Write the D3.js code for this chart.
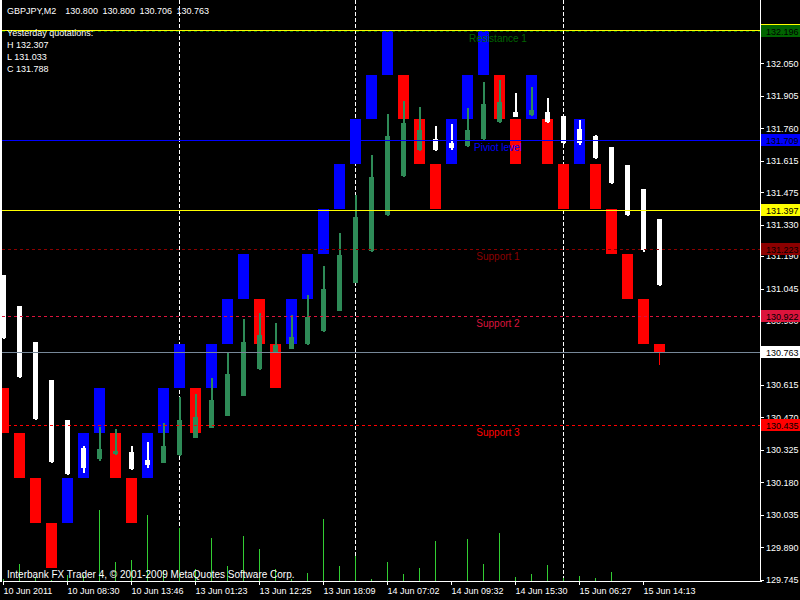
<!DOCTYPE html>
<html><head><meta charset="utf-8">
<script src="https://cdn.jsdelivr.net/npm/d3@7"></script>
<style>
body{margin:0;background:#000;}
svg{display:block;}
text{font-family:"Liberation Sans",Arial,sans-serif;}
rect,line{shape-rendering:crispEdges;}
</style>
</head><body>
<svg id="chart" width="800" height="600"></svg>
<script>
// ---------------- DATA ----------------
const titleText = "GBPJPY,M2  130.800 130.800 130.706 130.763";
const infoLines = ["Yesterday quotations:", "H 132.307", "L 131.033", "C 131.788"];
const copyrightText = "Interbank FX Trader 4, \u00a9 2001-2009 MetaQuotes Software Corp.";

// main chart bars (brick-like bodies)
const blockOpen  = [130.6,130.4,130.2,130.0,130.0,130.2,130.4,130.4,130.2,130.2,130.4,130.6,130.6,130.6,130.8,131.0,131.0,130.8,130.8,131.0,131.2,131.4,131.6,131.8,132.0,132.0,131.8,131.6,131.6,131.8,132.0,132.0,131.8,131.8,131.8,131.6,131.6,131.6,131.4,131.2,131.0,130.800];
const blockClose = [130.4,130.2,130.0,129.8,130.2,130.4,130.6,130.2,130.0,130.4,130.6,130.8,130.4,130.8,131.0,131.2,130.8,130.6,131.0,131.2,131.4,131.6,131.8,132.0,132.2,131.8,131.6,131.4,131.8,132.0,132.2,131.8,131.6,132.0,131.6,131.4,131.8,131.4,131.2,131.0,130.8,130.763];
const blockLow   = [130.4,130.2,130.0,129.8,130.0,130.2,130.4,130.2,130.0,130.2,130.4,130.6,130.4,130.6,130.8,131.0,130.8,130.6,130.8,131.0,131.2,131.4,131.6,131.8,132.0,131.8,131.6,131.4,131.6,131.8,132.0,131.8,131.6,131.8,131.6,131.4,131.6,131.4,131.2,131.0,130.8,130.706];
const blockHigh  = [130.6,130.4,130.2,130.0,130.2,130.4,130.6,130.4,130.2,130.4,130.6,130.8,130.6,130.8,131.0,131.2,131.0,130.8,131.0,131.2,131.4,131.6,131.8,132.0,132.2,132.0,131.8,131.6,131.8,132.0,132.2,132.0,131.8,132.0,131.8,131.6,131.8,131.6,131.4,131.2,131.0,130.800];

// overlay candles
const candleOpen  = [131.106,130.967,130.807,130.637,130.459,130.334,130.284,130.307,130.318,130.281,130.269,130.303,130.380,130.422,130.478,130.567,130.687,130.764,130.776,130.798,130.856,130.947,131.071,131.213,131.373,131.547,131.665,131.713,131.694,131.681,131.712,131.790,131.833,131.819,131.833,131.815,131.758,131.726,131.678,131.597,131.489,131.356];
const candleHigh  = [131.106,130.967,130.807,130.637,130.459,130.343,130.429,130.419,130.344,130.362,130.444,130.563,130.575,130.646,130.761,130.910,130.936,130.892,130.927,131.017,131.146,131.293,131.462,131.641,131.823,131.881,131.856,131.771,131.779,131.851,131.967,131.975,131.917,131.944,131.895,131.815,131.796,131.732,131.678,131.597,131.489,131.356];
const candleLow   = [130.818,130.645,130.460,130.269,130.212,130.222,130.277,130.303,130.236,130.244,130.266,130.300,130.377,130.422,130.478,130.567,130.683,130.759,130.774,130.795,130.853,130.947,131.068,131.210,131.370,131.544,131.661,131.660,131.663,131.678,131.708,131.785,131.809,131.816,131.785,131.689,131.687,131.624,131.512,131.370,131.210,131.057];
const candleClose = [130.825,130.650,130.465,130.273,130.217,130.245,130.330,130.322,130.240,130.258,130.343,130.459,130.474,130.548,130.664,130.807,130.838,130.794,130.829,130.917,131.043,131.195,131.364,131.542,131.726,131.783,131.753,131.665,131.672,131.753,131.868,131.877,131.812,131.842,131.790,131.694,131.694,131.629,131.517,131.375,131.215,131.062];

// tick volumes
const volumes = [2,17,4,1,6,6,71,19,21,66,11,53,12,43,15,45,32,12,2,8,62,15,25,2,19,7,13,40,0,42,17,48,4,7,16,3,5,3,9,0,0,0];

// time axis
const timeTickBars = [0,4,8,12,16,20,24,28,32,36,40];
const timeTickLabels = ["10 Jun 2011","10 Jun 08:30","10 Jun 13:46","13 Jun 01:23","13 Jun 12:25","13 Jun 18:09","14 Jun 07:02","14 Jun 09:32","14 Jun 15:30","15 Jun 06:27","15 Jun 14:13"];
const daySeparatorBars = [11,22,35];

// price axis
const priceTicks = [132.050,131.905,131.760,131.615,131.475,131.330,131.190,131.045,130.900,130.760,130.615,130.470,130.325,130.180,130.035,129.890,129.745];

// horizontal levels
const levelKeys   = ["topYellow","R1","PP","midYellow","S1","S2","Bid","S3"];
const levelValues = [132.200,132.196,131.709,131.397,131.223,130.922,130.763,130.435];
const levelNames  = ["","Resistance 1","Piviot level","","Support 1","Support 2","","Support 3"];

// ---------------- STYLE ----------------
const levelStyle = {
  topYellow:{color:"#ffff00",dash:null},
  R1:{color:"#006400",dash:"3,3"},
  PP:{color:"#0000ff",dash:null},
  midYellow:{color:"#ffff00",dash:null},
  S1:{color:"#8b0000",dash:"3,3"},
  S2:{color:"#dc143c",dash:"3,3"},
  Bid:{color:"#778899",dash:null,labelBg:"#ffffff"},
  S3:{color:"#ff0000",dash:"3,3"}
};

const W = 800, H = 600;
const plotLeft = 2, plotRight = 761, plotBottom = 581;

const svg = d3.select("#chart");
svg.append("rect").attr("width",W).attr("height",H).attr("fill","#000");

const defs = svg.append("defs");
defs.append("clipPath").attr("id","plotClip").append("rect")
  .attr("x",plotLeft).attr("y",0).attr("width",plotRight-plotLeft).attr("height",plotBottom);

const nBars = blockOpen.length;
const x = d3.scaleLinear().domain([0, nBars-1]).range([3.5, 3.5 + 16*(nBars-1)]);
const y = d3.scaleLinear().domain([129.745, 132.050]).range([580, 63.3]);
const yVol = d3.scaleLinear().domain([0, 80]).range([581, 501]);

const plot = svg.append("g").attr("clip-path","url(#plotClip)");
const idx = blockOpen.map((_,i)=>i);

// day separators
plot.selectAll("line.sep").data(daySeparatorBars).join("line").attr("class","sep")
  .attr("x1",d=>x(d)).attr("x2",d=>x(d)).attr("y1",0).attr("y2",plotBottom)
  .attr("stroke","#ffffff").attr("stroke-width",1).attr("stroke-dasharray","4,2");

// volumes
plot.selectAll("rect.vol").data(idx).join("rect").attr("class","vol")
  .attr("x",i=>x(i)-0.5).attr("width",1)
  .attr("y",i=>yVol(volumes[i])).attr("height",i=>yVol(0)-yVol(volumes[i]))
  .attr("fill","#32cd32");

// block wicks
plot.selectAll("rect.bw").data(idx).join("rect").attr("class","bw")
  .attr("x",i=>x(i)-0.5).attr("width",1)
  .attr("y",i=>y(blockHigh[i])).attr("height",i=>y(blockLow[i])-y(blockHigh[i]))
  .attr("fill",i=>blockClose[i]>=blockOpen[i]?"#0000ff":"#ff0000");

// blocks
plot.selectAll("rect.blk").data(idx).join("rect").attr("class","blk")
  .attr("x",i=>x(i)-5.5).attr("width",11)
  .attr("y",i=>y(Math.max(blockOpen[i],blockClose[i])))
  .attr("height",i=>Math.max(1, y(Math.min(blockOpen[i],blockClose[i]))-y(Math.max(blockOpen[i],blockClose[i]))))
  .attr("fill",i=>blockClose[i]>=blockOpen[i]?"#0000ff":"#ff0000");

// overlay candles
const cCol = i => candleClose[i]>=candleOpen[i] ? "#2e8b57" : "#ffffff";
plot.selectAll("rect.cw").data(idx).join("rect").attr("class","cw")
  .attr("x",i=>x(i)-1).attr("width",2)
  .attr("y",i=>y(candleHigh[i])).attr("height",i=>Math.max(1,y(candleLow[i])-y(candleHigh[i])))
  .attr("fill",cCol);
plot.selectAll("rect.cb").data(idx).join("rect").attr("class","cb")
  .attr("x",i=>x(i)-2.5).attr("width",5)
  .attr("y",i=>y(Math.max(candleOpen[i],candleClose[i])))
  .attr("height",i=>Math.max(1,y(Math.min(candleOpen[i],candleClose[i]))-y(Math.max(candleOpen[i],candleClose[i]))))
  .attr("fill",cCol);

// level lines
const lv = levelKeys.map((k,i)=>({key:k,value:levelValues[i],name:levelNames[i]}));
plot.selectAll("line.lvl").data(lv).join("line").attr("class","lvl")
  .attr("x1",plotLeft).attr("x2",plotRight)
  .attr("y1",d=>Math.round(y(d.value))+0.5).attr("y2",d=>Math.round(y(d.value))+0.5)
  .attr("stroke",d=>levelStyle[d.key].color).attr("stroke-width",1)
  .attr("stroke-dasharray",d=>levelStyle[d.key].dash);
plot.selectAll("text.lvl").data(lv.filter(d=>d.name)).join("text").attr("class","lvl")
  .attr("x",498).attr("y",d=>Math.round(y(d.value))+11)
  .attr("text-anchor","middle").attr("font-size","10px")
  .attr("fill",d=>levelStyle[d.key].color).text(d=>d.name);

// frame
svg.append("rect").attr("x",0).attr("y",0).attr("width",2).attr("height",plotBottom+1).attr("fill","#fff");
svg.append("line").attr("x1",3).attr("x2",plotRight+0.5).attr("y1",plotBottom+0.5).attr("y2",plotBottom+0.5).attr("stroke","#fff");
svg.append("line").attr("x1",plotRight-0.5).attr("x2",plotRight-0.5).attr("y1",0).attr("y2",plotBottom+1).attr("stroke","#fff");

// right price axis
const yAxis = d3.axisRight(y).tickValues(priceTicks).tickFormat(d3.format(".3f")).tickSize(3).tickPadding(2).tickSizeOuter(0);
const ga = svg.append("g").attr("transform",`translate(${plotRight},0)`).call(yAxis);
ga.select(".domain").remove();
ga.selectAll(".tick line").attr("stroke","#fff");
ga.selectAll(".tick text").attr("fill","#fff").attr("font-size","9px").attr("font-family","Liberation Sans, Arial, sans-serif");

// bottom time axis
const xAxis = d3.axisBottom(x).tickValues(timeTickBars).tickFormat((d,i)=>timeTickLabels[i]).tickSize(4).tickPadding(3).tickSizeOuter(0);
const gx = svg.append("g").attr("transform",`translate(-0.5,${plotBottom})`).call(xAxis);
gx.select(".domain").remove();
gx.selectAll(".tick line").attr("stroke","#fff");
gx.selectAll(".tick text").attr("fill","#fff").attr("font-size","9px").attr("text-anchor","start")
  .attr("font-family","Liberation Sans, Arial, sans-serif");

// price labels on right axis
const lg = svg.append("g");
lv.forEach(d=>{
  const cy = y(d.value);
  const st = levelStyle[d.key];
  lg.append("rect").attr("x",plotRight).attr("y",Math.round(cy)-6).attr("width",W-plotRight).attr("height",12)
    .attr("fill",st.labelBg||st.color);
  lg.append("text").attr("x",766).attr("y",Math.round(cy)+3.5).attr("font-size","9px").attr("fill","#000")
    .text(d3.format(".3f")(d.value));
});

// texts
svg.append("text").attr("x",7).attr("y",14).attr("font-size","9px").attr("fill","#fff")
  .attr("word-spacing","2px").style("white-space","pre").text(titleText);
svg.selectAll("text.info").data(infoLines).join("text").attr("class","info")
  .attr("x",7).attr("y",(d,i)=>[36,47.5,59.5,71.5][i]).attr("font-size","9px").attr("fill","#fff").text(d=>d);
svg.append("text").attr("x",7).attr("y",578).attr("font-size","10px").attr("fill","#fff").text(copyrightText);
</script>
</body></html>
